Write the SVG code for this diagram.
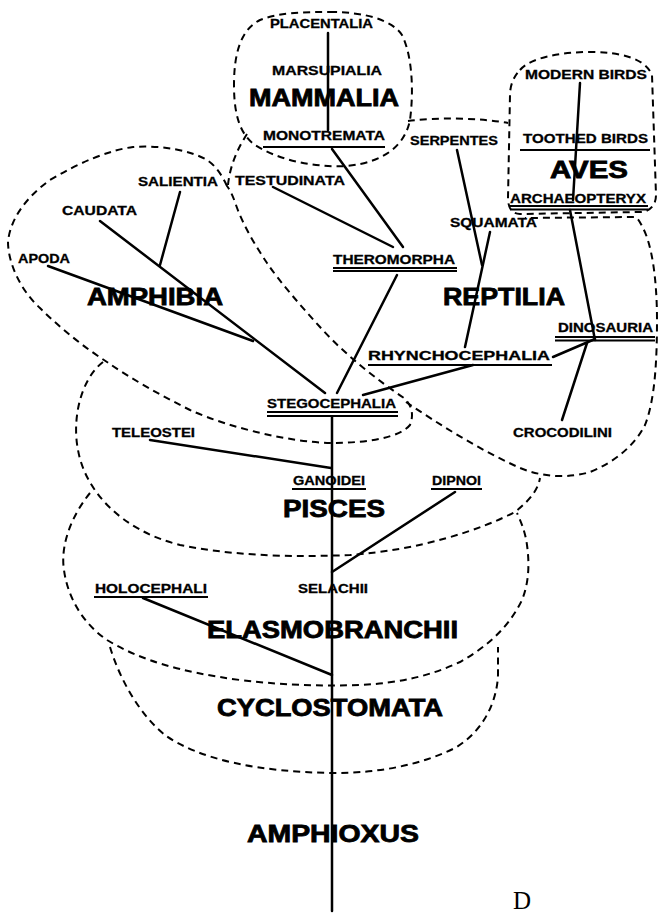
<svg xmlns="http://www.w3.org/2000/svg" width="658" height="916" viewBox="0 0 658 916">
<style>
.s{font-family:"Liberation Sans",Arial,sans-serif;font-weight:bold;font-size:13px;fill:#000;stroke:#000;stroke-width:0.3}
.b{font-family:"Liberation Sans",Arial,sans-serif;font-weight:bold;font-size:24px;fill:#000;stroke:#000;stroke-width:0.8}
.d{font-family:"Liberation Serif","Times New Roman",serif;font-size:25px;fill:#000}
.ol{fill:none;stroke:#000;stroke-width:2;stroke-dasharray:7 5}
.c{fill:none;stroke:#000;stroke-width:2.5;stroke-linecap:round}
.u{fill:none;stroke:#000;stroke-width:1.8}
</style>
<rect width="658" height="916" fill="#fff"/>
<g id="outlines">
<path id="mammalia-outline" class="ol" d="M330,12 C365,12 392,20 402,35 C412,55 414,90 410,120 C405,145 385,162 347,166 C310,168 275,158 255,145 C238,133 234,110 234,85 C234,55 240,30 260,20 C280,12 305,12 330,12 Z"/>
<path id="aves-outline" class="ol" d="M520,70 C530,58 560,52 590,52 C620,52 645,58 652,75 L656,195 C656,205 650,212 640,212 L520,214 C512,214 508,208 508,198 L510,95 C510,85 514,76 520,70 Z"/>
<path id="reptilia-outline" class="ol" d="M408,121 C440,117 480,118 508,123 M247,134 C238,148 230,165 228,185 M406,402 C440,425 480,450 520,468 C545,478 570,478 590,472 C615,462 635,445 645,425 C655,400 657,360 657,320 C657,280 652,245 643,228 C640,222 638,218 635,217 L525,218"/>
<path id="amphibia-outline" class="ol" d="M227,186 C222,175 215,165 207,160 C190,150 160,145 133,147 C110,150 80,162 50,180 C25,198 10,220 8,242 C8,262 20,290 40,308 C60,328 85,348 107,362 C130,378 160,395 190,410 C230,428 290,442 330,443 C370,443 400,437 410,425 C414,415 412,405 404,398 C380,382 345,355 320,327 C300,305 280,282 267,263 C255,245 243,225 236,205 C233,196 230,190 227,186 Z"/>
<path id="pisces-outline" class="ol" d="M103,362 C80,380 72,420 78,450 C85,490 120,530 180,545 C240,557 300,557 350,555 C420,550 480,530 515,512 C530,500 538,490 540,478"/>
<path id="elasmobranchii-outline" class="ol" d="M90,493 C72,515 60,545 64,570 C68,600 85,625 107,640 C140,660 180,672 240,680 C290,686 330,686 360,685 C400,683 430,676 460,662 C490,645 510,625 522,600 C530,580 529,560 527,545 C525,530 520,520 517,513"/>
<path id="cyclostomata-outline" class="ol" d="M110,647 C120,680 140,715 165,735 C200,760 260,772 333,773 C380,773 420,765 455,748 C485,730 497,700 498,675 C498,660 498,652 498,647"/>
</g>
<g id="connectors">
<line class="c" x1="328" y1="33" x2="328" y2="130"/>
<line class="c" x1="332" y1="149" x2="403" y2="247"/>
<line class="c" x1="273" y1="187" x2="393" y2="247"/>
<line class="c" x1="397" y1="275" x2="337" y2="393"/>
<line class="c" x1="100" y1="221" x2="325" y2="393"/>
<line class="c" x1="48" y1="266" x2="253" y2="341"/>
<line class="c" x1="180" y1="192" x2="160" y2="265"/>
<line class="c" x1="473" y1="365" x2="363" y2="395"/>
<line class="c" x1="490" y1="232" x2="465" y2="347"/>
<line class="c" x1="457" y1="150" x2="482" y2="265"/>
<line class="c" x1="553" y1="357" x2="595" y2="339"/>
<line class="c" x1="570" y1="210" x2="595" y2="340"/>
<line class="c" x1="587" y1="343" x2="562" y2="420"/>
<line class="c" x1="580" y1="83" x2="573" y2="200"/>
<line class="c" x1="332" y1="417" x2="332" y2="911"/>
<line class="c" x1="150" y1="440" x2="331" y2="468"/>
<line class="c" x1="455" y1="492" x2="332" y2="572"/>
<line class="c" x1="143" y1="598" x2="332" y2="675"/>
</g>
<g id="underlines">
<line class="u" x1="263" y1="147" x2="385" y2="147" stroke-width="2.2"/>
<line class="u" x1="520" y1="150" x2="650" y2="150" stroke-width="2.5"/>
<line class="u" x1="510" y1="206" x2="648" y2="206"/>
<line class="u" x1="510" y1="209.5" x2="648" y2="209.5"/>
<line class="u" x1="333" y1="268" x2="457" y2="268"/>
<line class="u" x1="333" y1="271" x2="457" y2="271"/>
<line class="u" x1="555" y1="337" x2="655" y2="337"/>
<line class="u" x1="555" y1="340.5" x2="655" y2="340.5"/>
<line class="u" x1="368" y1="365" x2="552" y2="365"/>
<line class="u" x1="267" y1="412" x2="398" y2="412"/>
<line class="u" x1="267" y1="416" x2="398" y2="416"/>
<line class="u" x1="292" y1="489" x2="366" y2="489"/>
<line class="u" x1="431" y1="489" x2="482" y2="489"/>
<line class="u" x1="94" y1="597" x2="208" y2="597"/>
</g>
<g id="mammalia"><text class="b" x="249" y="106" textLength="150" lengthAdjust="spacingAndGlyphs">MAMMALIA</text></g>
<g id="placentalia"><text class="s" x="270" y="28" textLength="103" lengthAdjust="spacingAndGlyphs">PLACENTALIA</text></g>
<g id="marsupialia"><text class="s" x="272" y="75" textLength="110" lengthAdjust="spacingAndGlyphs">MARSUPIALIA</text></g>
<g id="monotremata"><text class="s" x="263" y="140" textLength="122" lengthAdjust="spacingAndGlyphs">MONOTREMATA</text></g>
<g id="serpentes"><text class="s" x="410" y="145" textLength="88" lengthAdjust="spacingAndGlyphs">SERPENTES</text></g>
<g id="aves"><text class="b" x="550" y="178" textLength="78" lengthAdjust="spacingAndGlyphs">AVES</text></g>
<g id="modern-birds"><text class="s" x="525" y="79" textLength="122" lengthAdjust="spacingAndGlyphs">MODERN BIRDS</text></g>
<g id="toothed-birds"><text class="s" x="523" y="143" textLength="125" lengthAdjust="spacingAndGlyphs">TOOTHED BIRDS</text></g>
<g id="archaeopteryx"><text class="s" x="510" y="203" textLength="136" lengthAdjust="spacingAndGlyphs">ARCHAEOPTERYX</text></g>
<g id="salientia"><text class="s" x="138" y="186" textLength="80" lengthAdjust="spacingAndGlyphs">SALIENTIA</text></g>
<g id="testudinata"><text class="s" x="235" y="185" textLength="110" lengthAdjust="spacingAndGlyphs">TESTUDINATA</text></g>
<g id="caudata"><text class="s" x="62" y="215" textLength="75" lengthAdjust="spacingAndGlyphs">CAUDATA</text></g>
<g id="squamata"><text class="s" x="450" y="227" textLength="87" lengthAdjust="spacingAndGlyphs">SQUAMATA</text></g>
<g id="apoda"><text class="s" x="18" y="263" textLength="52" lengthAdjust="spacingAndGlyphs">APODA</text></g>
<g id="theromorpha"><text class="s" x="333" y="264" textLength="122" lengthAdjust="spacingAndGlyphs">THEROMORPHA</text></g>
<g id="amphibia"><text class="b" x="87" y="305" textLength="136" lengthAdjust="spacingAndGlyphs">AMPHIBIA</text></g>
<g id="reptilia"><text class="b" x="443" y="305" textLength="122" lengthAdjust="spacingAndGlyphs">REPTILIA</text></g>
<g id="dinosauria"><text class="s" x="558" y="332" textLength="95" lengthAdjust="spacingAndGlyphs">DINOSAURIA</text></g>
<g id="rhynchocephalia"><text class="s" x="368" y="360" textLength="182" lengthAdjust="spacingAndGlyphs">RHYNCHOCEPHALIA</text></g>
<g id="stegocephalia"><text class="s" x="267" y="408" textLength="129" lengthAdjust="spacingAndGlyphs">STEGOCEPHALIA</text></g>
<g id="teleostei"><text class="s" x="112" y="437" textLength="83" lengthAdjust="spacingAndGlyphs">TELEOSTEI</text></g>
<g id="crocodilini"><text class="s" x="513" y="437" textLength="99" lengthAdjust="spacingAndGlyphs">CROCODILINI</text></g>
<g id="ganoidei"><text class="s" x="293" y="485" textLength="72" lengthAdjust="spacingAndGlyphs">GANOIDEI</text></g>
<g id="dipnoi"><text class="s" x="432" y="485" textLength="49" lengthAdjust="spacingAndGlyphs">DIPNOI</text></g>
<g id="pisces"><text class="b" x="283" y="517" textLength="102" lengthAdjust="spacingAndGlyphs">PISCES</text></g>
<g id="holocephali"><text class="s" x="95" y="593" textLength="112" lengthAdjust="spacingAndGlyphs">HOLOCEPHALI</text></g>
<g id="selachii"><text class="s" x="298" y="593" textLength="70" lengthAdjust="spacingAndGlyphs">SELACHII</text></g>
<g id="elasmobranchii"><text class="b" x="207" y="638" textLength="251" lengthAdjust="spacingAndGlyphs">ELASMOBRANCHII</text></g>
<g id="cyclostomata"><text class="b" x="217" y="716" textLength="226" lengthAdjust="spacingAndGlyphs">CYCLOSTOMATA</text></g>
<g id="amphioxus"><text class="b" x="247" y="842" textLength="172" lengthAdjust="spacingAndGlyphs">AMPHIOXUS</text></g>
<g id="label-d"><text class="d" x="513" y="909">D</text></g>
</svg>
